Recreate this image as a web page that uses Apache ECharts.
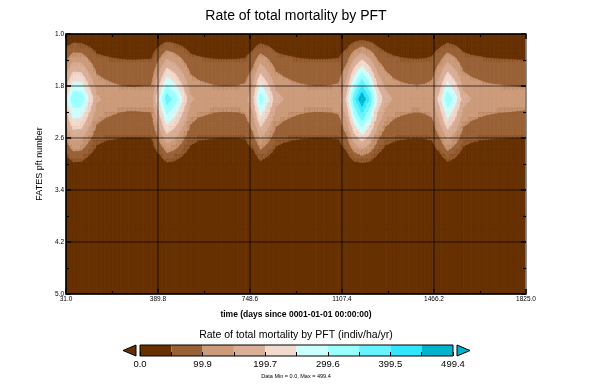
<!DOCTYPE html>
<html><head><meta charset="utf-8">
<script src="https://cdn.jsdelivr.net/npm/echarts@6/dist/echarts.min.js"></script>
<style>html,body{margin:0;padding:0;background:#fff}#c{width:592px;height:384px}</style>
</head><body><div id="c"></div>
<script>
// time axis (days since 0001-01-01), monthly
const times = [31,59,90,120,151,181,212,243,273,304,334,365,
  396,424,455,485,516,546,577,608,638,669,699,730,
  761,789,820,850,881,911,942,973,1003,1034,1064,1095,
  1126,1154,1185,1215,1246,1276,1307,1338,1368,1399,1429,1460,
  1491,1519,1550,1580,1611,1641,1672,1703,1733,1764,1794,1825];
const pfts = [1,2,3,4,5];
const pft1 = [2,2,2,2,2,2,2,2,2,2,2,2,
  2,2,2,2,2,2,2,2,2,2,2,2,
  2,2,2,2,2,2,2,2,2,2,2,2,
  2,2,2,2,2,2,2,2,2,2,2,2,
  2,2,2,2,2,2,2,2,2,2,2,2];
const pft2 = [230,340,335,250,160,142,132,125,122,122,124,125,
  255,380,330,250,160,140,132,126,124,124,125,130,
  190,325,255,170,150,138,130,126,124,124,126,130,
  210,375,499.4,395,245,175,145,134,128,126,128,140,
  230,340,270,172,150,140,132,128,126,124,122,120];
const pft3 = [20,40,38,20,5,0,0,0,0,0,0,0,
  15,40,35,20,5,0,0,0,0,0,0,0,
  10,35,20,5,0,0,0,0,0,0,0,0,
  10,35,40,35,15,0,0,0,0,0,0,0,
  15,38,25,5,0,0,0,0,0,0,0,0];
const pft4 = [0,0,0,0,0,0,0,0,0,0,0,0,
  0,0,0,0,0,0,0,0,0,0,0,0,
  0,0,0,0,0,0,0,0,0,0,0,0,
  0,0,0,0,0,0,0,0,0,0,0,0,
  0,0,0,0,0,0,0,0,0,0,0,0];
const pft5 = [0,0,0,0,0,0,0,0,0,0,0,0,
  0,0,0,0,0,0,0,0,0,0,0,0,
  0,0,0,0,0,0,0,0,0,0,0,0,
  0,0,0,0,0,0,0,0,0,0,0,0,
  0,0,0,0,0,0,0,0,0,0,0,0];
const xTickLabels = ['31.0','389.8','748.6','1107.4','1466.2','1825.0'];
const yTickLabels = ['1.0','1.8','2.6','3.4','4.2','5.0'];
const cbTickLabels = ['0.0','99.9','199.7','299.6','399.5','499.4'];
const dataMin = 0.0, dataMax = 499.4;
const levelColors = ['#663000','#996136','#cc9b7a','#d9af98','#f2dace','#ccffff','#99ffff','#66f2ff','#33e6ff','#00b3cc'];

const grid = [pft1, pft2, pft3, pft4, pft5];
const nLev = levelColors.length;
const step = (dataMax - dataMin) / nLev;
const levels = [];
for (let k = 0; k < nLev; k++) levels.push(dataMin + k * step);
function band(v){ let k = Math.floor((v - dataMin) / step); return Math.max(0, Math.min(nLev - 1, k)); }

function clip(pts, lo){
  const out = [];
  for (let i = 0; i < pts.length; i++) {
    const a = pts[i], b = pts[(i + 1) % pts.length];
    const ina = a[2] >= lo, inb = b[2] >= lo;
    if (ina) out.push(a);
    if (ina !== inb) {
      const t = (lo - a[2]) / (b[2] - a[2]);
      out.push([a[0] + t * (b[0] - a[0]), a[1] + t * (b[1] - a[1]), lo]);
    }
  }
  return out;
}
function polyEls(tri, children){
  let bmin = nLev, bmax = 0;
  tri.forEach(p => { const b = band(p[2]); bmin = Math.min(bmin, b); bmax = Math.max(bmax, b); });
  for (let k = bmin; k <= bmax; k++) {
    const poly = k === bmin ? tri : clip(tri, levels[k]);
    if (poly.length >= 3) children.push({type:'polygon', shape:{points: poly.map(p => [p[0], p[1]])},
      style:{fill: levelColors[k], stroke: levelColors[k], lineWidth: 0.8}});
  }
}

const cells = [];
for (let j = 0; j < pfts.length - 1; j++)
  for (let i = 0; i < times.length - 1; i++) cells.push([times[i], pfts[j], i, j]);

function renderCell(params, api){
  const i = api.value(2), j = api.value(3);
  const v00 = grid[j][i], v10 = grid[j][i+1], v01 = grid[j+1][i], v11 = grid[j+1][i+1];
  const pA = api.coord([times[i], pfts[j]]), pB = api.coord([times[i+1], pfts[j+1]]);
  const x0 = pA[0], y0 = pA[1], x1 = pB[0], y1 = pB[1];
  const children = [];
  const b0 = band(v00);
  if (band(v10) === b0 && band(v01) === b0 && band(v11) === b0) {
    children.push({type:'rect', shape:{x:x0, y:y0, width:x1-x0, height:y1-y0},
      style:{fill: levelColors[b0], stroke: levelColors[b0], lineWidth: 0.8}});
    return {type:'group', children};
  }
  const NX = 3, NY = 14;
  const val = (u, w) => (v00*(1-u)*(1-w) + v10*u*(1-w) + v01*(1-u)*w + v11*u*w);
  for (let a = 0; a < NX; a++) for (let b = 0; b < NY; b++) {
    const u0 = a/NX, u1 = (a+1)/NX, w0 = b/NY, w1 = (b+1)/NY;
    const X0 = x0 + (x1-x0)*u0, X1 = x0 + (x1-x0)*u1, Y0 = y0 + (y1-y0)*w0, Y1 = y0 + (y1-y0)*w1;
    const q00 = [X0, Y0, val(u0,w0)], q10 = [X1, Y0, val(u1,w0)], q01 = [X0, Y1, val(u0,w1)], q11 = [X1, Y1, val(u1,w1)];
    const bb = band(q00[2]);
    if (band(q10[2]) === bb && band(q01[2]) === bb && band(q11[2]) === bb) {
      children.push({type:'rect', shape:{x:X0, y:Y0, width:X1-X0, height:Y1-Y0},
        style:{fill: levelColors[bb], stroke: levelColors[bb], lineWidth: 0.8}});
    } else {
      polyEls([q00, q10, q11], children);
      polyEls([q00, q11, q01], children);
    }
  }
  return {type:'group', children};
}

const cbItems = [];
for (let k = 0; k < nLev; k++) cbItems.push([k, 0, k]);
function renderCb(params, api){
  const k = api.value(2);
  const p0 = api.coord([k, 1]), p1 = api.coord([k + 1, 0]);
  const children = [{type:'rect', shape:{x:p0[0], y:p0[1], width:p1[0]-p0[0], height:p1[1]-p0[1]}, style:{fill: levelColors[k]}}];
  const h = p1[1] - p0[1];
  if (k === 0) children.push({type:'polygon', shape:{points:[[p0[0]-4, p0[1]], [p0[0]-4, p1[1]], [p0[0]-17, p0[1] + h/2]]},
      style:{fill: levelColors[0], stroke:'#000', lineWidth:1}});
  if (k === nLev - 1) children.push({type:'polygon', shape:{points:[[p1[0]+4, p0[1]], [p1[0]+4, p1[1]], [p1[0]+17, p0[1] + h/2]]},
      style:{fill: levelColors[nLev-1], stroke:'#000', lineWidth:1}});
  return {type:'group', children};
}

const FONT = 'Liberation Sans';
const chart = echarts.init(document.getElementById('c'), null, {renderer:'canvas'});
const gridLine = {show:true, lineStyle:{color:'rgba(0,0,0,0.45)', width:1.5}};
chart.setOption({
  animation:false,
  textStyle:{fontFamily: FONT},
  title:[
    {text:'Rate of total mortality by PFT', left:'center', top:9, padding:0, textStyle:{fontFamily:FONT, fontSize:14, fontWeight:'normal', color:'#000'}},
    {text:'Rate of total mortality by PFT (indiv/ha/yr)', left:'center', top:330, padding:0, textStyle:{fontFamily:FONT, fontSize:10.5, fontWeight:'normal', color:'#000'}},
    {text:'Data Min = ' + dataMin.toFixed(1) + ', Max = ' + dataMax.toFixed(1), left:'center', top:373, padding:0, textStyle:{fontFamily:FONT, fontSize:5.5, fontWeight:'normal', color:'#000'}}
  ],
  grid:[
    {left:66, top:34, width:460, height:260},
    {left:140, top:345, width:313, height:11}
  ],
  xAxis:[
    {type:'value', gridIndex:0, min:31, max:1825, interval:358.8, position:'bottom', z:5,
     name:'time (days since 0001-01-01 00:00:00)', nameLocation:'middle', nameGap:16,
     nameTextStyle:{fontFamily:FONT, fontSize:8.5, fontWeight:'bold', color:'#000'},
     axisLine:{show:true, onZero:false, lineStyle:{color:'#000', width:1.5}},
     axisTick:{show:true, inside:true, length:5, lineStyle:{color:'#000', width:1.5}},
     minorTick:{show:true, splitNumber:2, length:3, lineStyle:{color:'#000', width:1.2}},
     axisLabel:{fontSize:6.5, color:'#000', margin:2, formatter:(v, idx) => xTickLabels[idx]},
     splitLine:gridLine},
    {type:'value', gridIndex:0, min:31, max:1825, interval:358.8, position:'top', z:5,
     axisLine:{show:true, onZero:false, lineStyle:{color:'#000', width:1.5}},
     axisTick:{show:true, inside:true, length:5, lineStyle:{color:'#000', width:1.5}},
     minorTick:{show:true, splitNumber:2, length:3, lineStyle:{color:'#000', width:1.2}},
     axisLabel:{show:false}, splitLine:{show:false}},
    {type:'value', gridIndex:1, min:0, max:nLev, interval:2, z:5,
     axisLine:{show:false},
     axisTick:{show:true, inside:true, length:4, lineStyle:{color:'#000', width:1}},
     minorTick:{show:true, splitNumber:2, length:4, lineStyle:{color:'#000', width:1}},
     axisLabel:{fontSize:9.5, color:'#000', margin:3, formatter:(v, idx) => cbTickLabels[idx]},
     splitLine:{show:false}}
  ],
  yAxis:[
    {type:'value', gridIndex:0, min:1, max:5, interval:0.8, inverse:true, position:'left', z:5,
     name:'FATES pft number', nameLocation:'middle', nameGap:21, nameRotate:90,
     nameTextStyle:{fontFamily:FONT, fontSize:9, color:'#000'},
     axisLine:{show:true, onZero:false, lineStyle:{color:'#000', width:1.5}},
     axisTick:{show:true, inside:true, length:5, lineStyle:{color:'#000', width:1.5}},
     minorTick:{show:true, splitNumber:2, length:3, lineStyle:{color:'#000', width:1.2}},
     axisLabel:{fontSize:6.5, color:'#000', margin:2, formatter:(v, idx) => yTickLabels[idx]},
     splitLine:gridLine},
    {type:'value', gridIndex:0, min:1, max:5, interval:0.8, inverse:true, position:'right', z:5,
     axisLine:{show:true, onZero:false, lineStyle:{color:'#888', width:1.5}},
     axisTick:{show:true, inside:true, length:5, lineStyle:{color:'#000', width:1.5}},
     minorTick:{show:true, splitNumber:2, length:3, lineStyle:{color:'#000', width:1.2}},
     axisLabel:{show:false}, splitLine:{show:false}},
    {type:'value', gridIndex:1, min:0, max:1, show:true,
     axisLine:{show:false}, axisTick:{show:false}, axisLabel:{show:false}, splitLine:{show:false}}
  ],
  series:[
    {type:'custom', coordinateSystem:'cartesian2d', xAxisIndex:0, yAxisIndex:0, z:1, silent:true,
     renderItem:renderCell, data:cells, clip:true},
    {type:'custom', coordinateSystem:'cartesian2d', xAxisIndex:2, yAxisIndex:2, z:1, silent:true,
     renderItem:renderCb, data:cbItems},
  ],
  graphic:[
    {type:'rect', shape:{x:140, y:345, width:313, height:11}, style:{fill:'none', stroke:'#000', lineWidth:1}, z:10}
  ]
});
</script></body></html>
